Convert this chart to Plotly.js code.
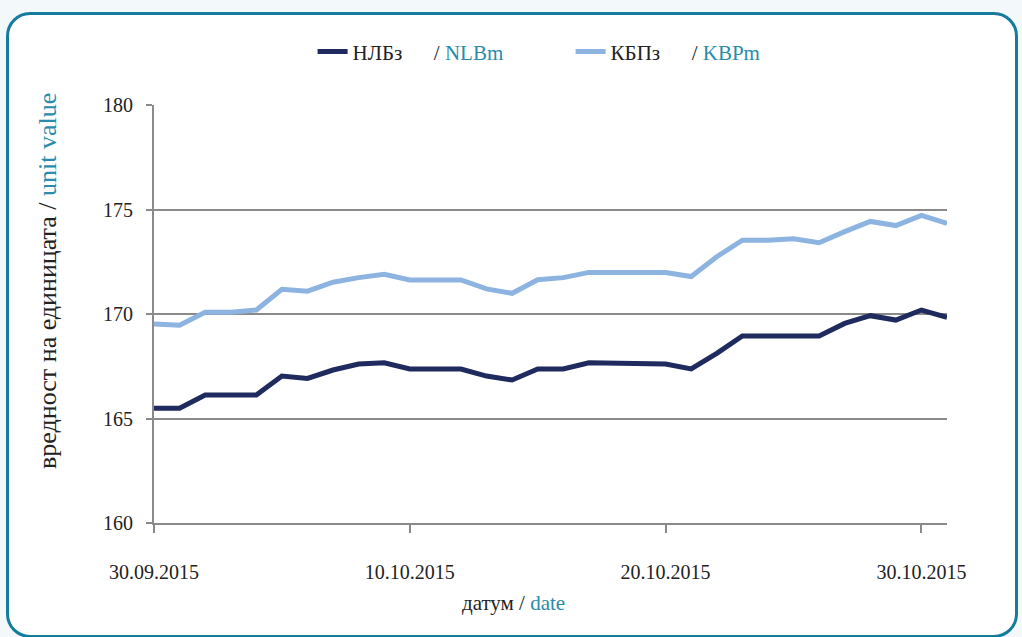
<!DOCTYPE html>
<html>
<head>
<meta charset="utf-8">
<script src="https://cdn.plot.ly/plotly-3.0.1.min.js"></script>
<style>
  html, body { margin: 0; padding: 0; background: #f3f8fb; width: 1022px; height: 637px; overflow: hidden; }
  #frame { position: absolute; left: 6px; top: 12px; width: 1012px; height: 626px; box-sizing: border-box;
           border: 3px solid #167c9d; border-radius: 24px; background: #ffffff; }
  #chart { position: absolute; left: 0; top: 0; width: 1022px; height: 637px; }
</style>
</head>
<body>
<div id="frame"></div>
<div id="chart"></div>
<script>
const dates = [
  '2015-09-30','2015-10-01','2015-10-02','2015-10-03','2015-10-04','2015-10-05','2015-10-06','2015-10-07',
  '2015-10-08','2015-10-09','2015-10-10','2015-10-11','2015-10-12','2015-10-13','2015-10-14','2015-10-15',
  '2015-10-16','2015-10-17','2015-10-18','2015-10-19','2015-10-20','2015-10-21','2015-10-22','2015-10-23',
  '2015-10-24','2015-10-25','2015-10-26','2015-10-27','2015-10-28','2015-10-29','2015-10-30','2015-10-31'
];
const nlb = [
  165.49,165.49,166.12,166.12,166.12,167.03,166.92,167.32,
  167.61,167.67,167.37,167.37,167.37,167.03,166.84,167.37,
  167.37,167.67,167.67,167.67,167.61,167.37,168.12,168.95,
  168.95,168.95,168.95,169.55,169.92,169.71,170.19,169.84
];
const kbp = [
  169.52,169.46,170.08,170.08,170.19,171.18,171.09,171.52,
  171.74,171.90,171.63,171.63,171.63,171.20,170.99,171.64,
  171.74,171.99,171.99,171.99,171.99,171.79,172.74,173.53,
  173.53,173.60,173.41,173.94,174.43,174.23,174.72,174.34
];
const xTickVals = ['2015-09-30','2015-10-10','2015-10-20','2015-10-30'];
const xTickText = ['30.09.2015','10.10.2015','20.10.2015','30.10.2015'];
const yTickVals = [160,165,170,175,180];

const teal = '#2a8bab';
const ink = '#222222';
const nb = '\u00A0';
const serif = '"Liberation Serif", serif';

const traces = [
  { x: dates, y: nlb, type: 'scatter', mode: 'lines',
    name: 'НЛБз' + nb.repeat(6) + '/' + nb + '<span style="color:' + teal + '">NLBm</span>',
    line: { color: '#1f2a5e', width: 5 } },
  { x: dates, y: kbp, type: 'scatter', mode: 'lines',
    name: 'КБПз' + nb.repeat(6) + '/' + nb + '<span style="color:' + teal + '">KBPm</span>',
    line: { color: '#8db4e1', width: 5 } }
];

const layout = {
  width: 1022, height: 637,
  paper_bgcolor: 'rgba(0,0,0,0)', plot_bgcolor: 'rgba(0,0,0,0)',
  margin: { l: 154, r: 75, t: 105, b: 114 },
  font: { family: serif, color: ink, size: 20 },
  showlegend: true,
  legend: { orientation: 'h', x: 0.2, xanchor: 'left', y: 1.127, yanchor: 'middle',
            font: { family: serif, size: 21, color: ink }, entrywidth: 213, bgcolor: 'rgba(0,0,0,0)' },
  xaxis: {
    type: 'date', range: ['2015-09-30', '2015-10-31'],
    tickvals: xTickVals, ticktext: xTickText,
    showgrid: false, zeroline: false,
    showline: true, linecolor: '#8a8a8a', linewidth: 2,
    ticks: 'outside', ticklen: 8, tickwidth: 2, tickcolor: '#8a8a8a',
    ticklabelstandoff: 22,
    tickfont: { family: serif, size: 20, color: ink }
  },
  yaxis: {
    range: [160, 180], tickvals: yTickVals,
    showgrid: true, gridcolor: '#8a8a8a', gridwidth: 2, zeroline: false,
    showline: true, linecolor: '#8a8a8a', linewidth: 2,
    ticks: 'outside', ticklen: 6, tickwidth: 2, tickcolor: '#8a8a8a',
    ticklabelstandoff: 9,
    tickfont: { family: serif, size: 20, color: ink }
  },
  annotations: [
    { xref: 'paper', yref: 'paper', x: -0.1337, y: 0.579, xanchor: 'center', yanchor: 'middle',
      textangle: -90, showarrow: false,
      text: 'вредност на единицата / <span style="color:' + teal + '">unit value</span>',
      font: { family: serif, size: 26, color: ink } },
    { xref: 'paper', yref: 'paper', x: (513 - 154) / 793, y: (523 - 603) / 418, xanchor: 'center', yanchor: 'middle',
      showarrow: false,
      text: 'датум / <span style="color:' + teal + '">date</span>',
      font: { family: serif, size: 21, color: ink } }
  ]
};

Plotly.newPlot('chart', traces, layout, { displayModeBar: false, staticPlot: true });
</script>
</body>
</html>
